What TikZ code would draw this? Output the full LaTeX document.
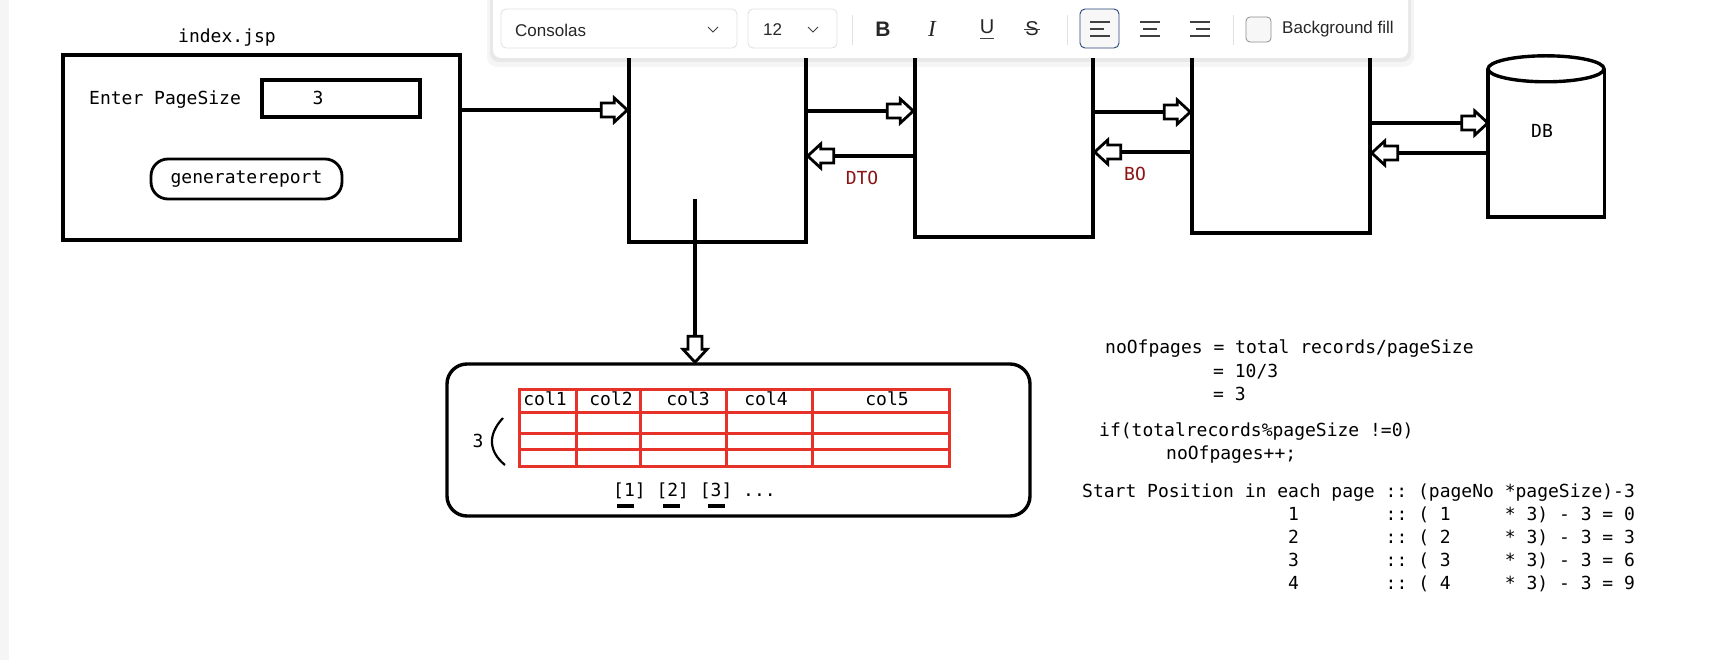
\documentclass[tikz,border=0pt]{standalone}
\usepackage{fontspec}
\setmainfont{Liberation Sans}
\setmonofont{DejaVu Sans Mono}
\newfontfamily\serifui{Liberation Serif}
\usetikzlibrary{decorations.markings}
\definecolor{gridred}{RGB}{230,50,40}
\definecolor{labelred}{RGB}{140,20,20}
\definecolor{focusblue}{RGB}{40,70,120}

\begin{document}
\begin{tikzpicture}[x=1pt,y=-1pt,
        box/.style={draw,line width=3.4pt,inner sep=0pt},
        txt/.style={inner sep=0pt,text height=13pt,text depth=4pt,font=\fontsize{18}{20}\selectfont\ttfamily},
        ui/.style={inner sep=0pt,text=black!85,font=\fontsize{17}{19}\selectfont},
        openhead/.style={postaction={decorate,decoration={markings,mark=at position 1 with {
            \draw[line width=2.8pt,fill=white] (0pt,0pt) -- (-13pt,12pt) -- (-13pt,7pt) -- (-26pt,7pt)
                -- (-26pt,-7pt) -- (-13pt,-7pt) -- (-13pt,-12pt) -- cycle;}}}},
        link/.style={line width=3.2pt,openhead},
        grid/.style={draw=gridred,line width=3pt},
        field/.style={draw=black!12,fill=white,rounded corners=5pt,line width=0.8pt,inner sep=0pt},
        icon/.style={black!75,line width=1.2pt}]

    \useasboundingbox (0,0) rectangle (1730,660);
    \fill[white] (0,0) rectangle (1730,660);
    \fill[black!4] (0,0) rectangle (9,660);

    % page form
    \node[txt] (title) at (227,38) {index.jsp};
    \node[box,minimum width=397pt,minimum height=185pt] (index) at (261.5,147.5) {};
    \node[txt,anchor=west] (ask) at (89,100) {Enter PageSize};
    \node[box,minimum width=158pt,minimum height=37pt] (size) at (341,98.5) {};
    \node[txt] (sizeval) at (318,100) {3};
    \node[box,txt,line width=2.8pt,rounded corners=17pt,minimum width=191pt,minimum height=40pt] (gen) at (246.5,179) {generatereport};

    % layers
    \node[box,minimum width=177pt,minimum height=212pt] (ctrl) at (717.5,136) {};
    \node[box,minimum width=178pt,minimum height=207pt] (svc) at (1004,133.5) {};
    \node[box,minimum width=178pt,minimum height=203pt] (dao) at (1281,131.5) {};
    \node[minimum width=116pt,minimum height=148pt,inner sep=0pt] (db) at (1546,143) {};
    \draw[line width=3.4pt] (db.north west) -- (db.south west) -- (db.south east) -- (db.north east);
    \draw[line width=3.4pt,fill=white] (db.north) ellipse [x radius=58, y radius=13];
    \node[txt] (dblabel) at (1542,133) {DB};

    \draw[link] (index.east |- 0,110) -- (ctrl.west |- 0,110);
    \draw[link] (ctrl.east |- 0,111) -- (svc.west |- 0,111);
    \draw[link] (svc.west |- 0,156) -- (ctrl.east |- 0,156);
    \draw[link] (svc.east |- 0,112) -- (dao.west |- 0,112);
    \draw[link] (dao.west |- 0,152) -- (svc.east |- 0,152);
    \draw[link] (dao.east |- 0,123) -- (db.west |- 0,123);
    \draw[link] (db.west |- 0,153) -- (dao.east |- 0,153);
    \node[txt,text=labelred] (dto) at (862,180) {DTO};
    \node[txt,text=labelred] (bo) at (1135,176) {BO};

    % report
    \node[box,rounded corners=20pt,minimum width=583pt,minimum height=152pt] (result) at (738.5,440) {};
    \coordinate (drop) at (695,199);
    \draw[link] (drop) -- (drop |- result.north);
    \draw[grid] (519,389) rectangle (949,466);
    \foreach \y in {412,433,449}
        \draw[grid] (519,\y) -- (949,\y);
    \foreach \x in {576,640,726,812}
        \draw[grid] (\x,389) -- (\x,466);
    \foreach \x/\c in {545/1,611/2,688/3,766/4,887/5}
        \node[txt] (col\c) at (\x,401) {col\c};
    \node[txt] (rows) at (478,443) {3};
    \draw[line width=2.2pt] (503,418) .. controls (487,435) and (489,452) .. (505,465);
    \node[txt,anchor=west] (pages) at (613,492) {[1] [2] [3] ...};
    \foreach \x in {617,663,708}
        \draw[line width=3.2pt] (\x,506) -- +(17,0);

    % formulas
    \node[txt,anchor=west] (calc) at (1105,349) {noOfpages = total records/pageSize};
    \node[txt,anchor=west] (calc2) at (1213,373) {= 10/3};
    \node[txt,anchor=west] (calc3) at (1213,396) {= 3};
    \node[txt,anchor=west] (cond) at (1099,432) {if(totalrecords\%pageSize !=0)};
    \node[txt,anchor=west] (incr) at (1166,455) {noOfpages++;};
    \node[txt,anchor=west] (start) at (1082,493) {Start Position in each page :: (pageNo *pageSize)-3};
    \foreach \n/\r in {1/0,2/3,3/6,4/9}
        \node[txt,anchor=west] (row\n) at (1288,493+23*\n) {\n~~~~~~~~::~(~\n~~~~~*~3)~-~3~=~\r};

    % toolbar
    \fill[black,opacity=0.04,rounded corners=10pt] (487,-10) rectangle (1414,67);
    \fill[black,opacity=0.05,rounded corners=9pt] (490,-10) rectangle (1411,62);
    \fill[white,rounded corners=8pt] (493,-10) rectangle (1408,58);
    \node[field,minimum width=236pt,minimum height=39pt] (font) at (619,28.5) {};
    \node[ui,anchor=west] (fontname) at (515,30) {Consolas};
    \draw[icon,line width=0.8pt] (708,27) -- (713,32) -- (718,27);
    \node[field,minimum width=89pt,minimum height=39pt] (fsize) at (792.5,28.5) {};
    \node[ui,anchor=west] (fsizeval) at (763,30) {12};
    \draw[icon,line width=0.8pt] (808,27) -- (813,32) -- (818,27);
    \draw[black!12,line width=0.8pt] (852,15) -- (852,45);
    \node[ui,font=\fontsize{21}{22}\selectfont\bfseries] (bold) at (883,29) {B};
    \node[ui,font=\fontsize{23}{24}\selectfont\serifui\itshape] (ital) at (932,29) {I};
    \node[ui,font=\fontsize{20}{22}\selectfont] (under) at (987,27) {U};
    \draw[icon,line width=0.9pt] (980,38) -- (994,38);
    \node[ui,font=\fontsize{20}{22}\selectfont] (strike) at (1032,29) {S};
    \draw[icon,line width=0.9pt] (1024,29) -- (1040,29);
    \draw[black!12,line width=0.8pt] (1067,15) -- (1067,45);
    \node[draw=focusblue,fill=black!3,rounded corners=5pt,line width=0.9pt,minimum width=39pt,minimum height=39pt,inner sep=0pt] (alignl) at (1099.5,28.5) {};
    \draw[icon] (1090,22) -- (1110,22) (1090,29) -- (1104,29) (1090,36) -- (1110,36);
    \draw[icon] (1140,22) -- (1160,22) (1143,29) -- (1157,29) (1140,36) -- (1160,36);
    \draw[icon] (1190,22) -- (1210,22) (1196,29) -- (1210,29) (1190,36) -- (1210,36);
    \draw[black!12,line width=0.8pt] (1233,15) -- (1233,45);
    \node[draw=black!45,fill=black!3,rounded corners=4pt,line width=0.8pt,minimum size=25pt,inner sep=0pt] (bgfill) at (1258.5,29.5) {};
    \node[ui,anchor=west] (bgtext) at (1282,29) {Background fill};
\end{tikzpicture}
\end{document}
